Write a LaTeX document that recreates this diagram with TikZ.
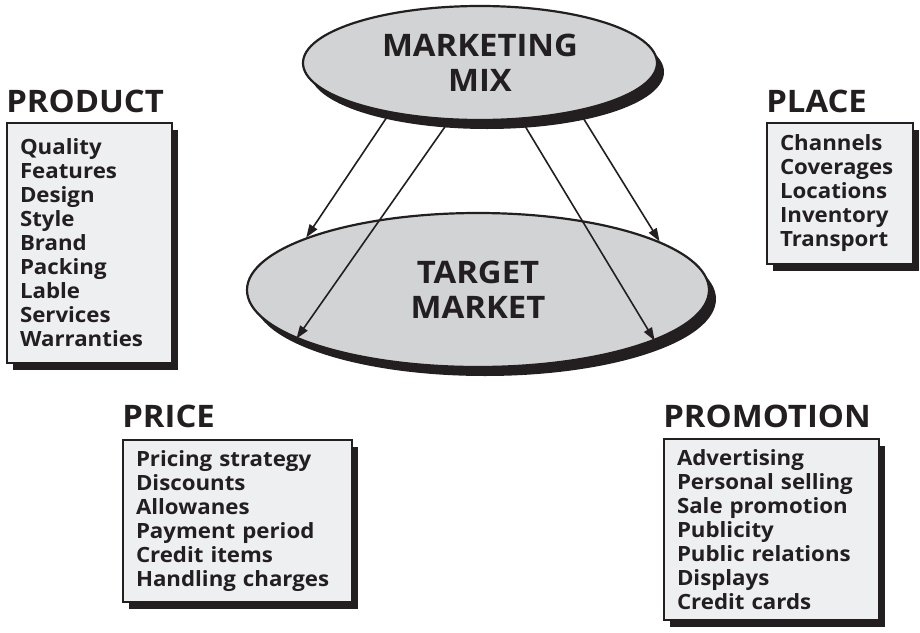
\documentclass[tikz,border=0pt]{standalone}
\usepackage{fontspec}
\setmainfont{Open Sans}[FakeStretch=1.06]
\usetikzlibrary{shapes.geometric,shadows,arrows.meta,positioning}
\definecolor{ellgray}{HTML}{D1D3D4}
\definecolor{boxgray}{HTML}{EEEFF1}
\definecolor{ink}{HTML}{231F20}

\begin{document}
\begin{tikzpicture}[x=1pt,y=1pt,
  oval/.style={ellipse,draw=ink,line width=2.2pt,fill=ellgray,inner sep=0pt,align=center,
    text=ink,font=\fontsize{31}{35}\selectfont\bfseries,
    drop shadow={shadow xshift=7pt,shadow yshift=-9pt,fill=ink,opacity=1}},
  listbox/.style={draw=ink,line width=1.8pt,fill=boxgray,inner xsep=13pt,inner ysep=0pt,align=left,
    text=ink,font=\fontsize{21}{24}\selectfont\bfseries,
    drop shadow={shadow xshift=6pt,shadow yshift=-7pt,fill=ink,opacity=1}},
  ttl/.style={anchor=base west,inner sep=0pt,text=ink,font=\fontsize{31}{31}\selectfont\bfseries},
  arr/.style={draw=ink,line width=1.6pt,-{Triangle[length=13pt,width=9pt]}}]
\useasboundingbox (0,0) rectangle (920,-632);

\node[oval,minimum width=462,minimum height=154] (tm) at (478,-290) {TARGET\\MARKET};
\node[oval,minimum width=354,minimum height=114] (mm) at (480,-63) {MARKETING\\MIX};

\draw[arr] (mm.209) -- (tm.163);
\draw[arr] (mm.242) -- (tm.195.5);
\draw[arr] (mm.306) -- (tm.344);
\draw[arr] (mm.334) -- (tm.15);

\node[listbox,minimum width=165,minimum height=240,text width=139] (prod) at (89.5,-243)
  {Quality\\Features\\Design\\Style\\Brand\\Packing\\Lable\\Services\\Warranties};
\node[ttl] (prodT) at ([yshift=10pt]prod.north west) {PRODUCT};

\node[listbox,minimum width=146,minimum height=141,text width=120] (place) at (840,-193.5)
  {Channels\\Coverages\\Locations\\Inventory\\Transport};
\node[ttl] (placeT) at ([yshift=10pt]place.north west) {PLACE};

\node[listbox,minimum width=229,minimum height=162,text width=203] (price) at (237.5,-521)
  {Pricing strategy\\Discounts\\Allowanes\\Payment period\\Credit items\\Handling charges};
\node[ttl] (priceT) at ([yshift=12pt]price.north west) {PRICE};

\node[listbox,minimum width=215,minimum height=181,text width=189] (promo) at (771.5,-529.5)
  {Advertising\\Personal selling\\Sale promotion\\Publicity\\Public relations\\Displays\\Credit cards};
\node[ttl] (promoT) at ([yshift=11pt]promo.north west) {PROMOTION};
\end{tikzpicture}
\end{document}
